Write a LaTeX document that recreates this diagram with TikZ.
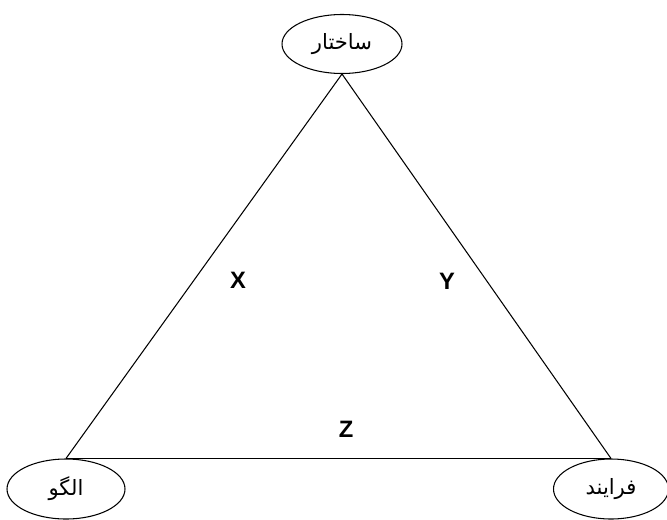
\documentclass[tikz,border=0pt]{standalone}
\usepackage{fontspec}
\setmainfont{Liberation Sans}
\newfontfamily\farsi[Script=Arabic]{DejaVu Sans}
\TeXXeTstate=1
\usetikzlibrary{shapes.geometric}

\begin{document}
\begin{tikzpicture}[line width=0.6pt,
  oval/.style={draw,ellipse,inner sep=0pt,minimum width=2.4cm,minimum height=1.18cm,font=\farsi\fontsize{12}{14}\selectfont},
  side/.style={font=\bfseries\fontsize{13.5}{15}\selectfont}]
\useasboundingbox (0,0) rectangle (13.34,10.38);
\node[oval] (S) at (6.84,9.50) {\beginR ساختار\endR};
\node[oval,minimum width=2.36cm,minimum height=1.2cm] (P) at (1.32,0.60) {\beginR الگو\endR};
\node[oval,minimum width=2.3cm,minimum height=1.2cm] (F) at (12.22,0.60) {\beginR فرایند\endR};
\node[side] (x) at (4.76,4.78) {X};
\node[side] (y) at (8.94,4.76) {Y};
\node[side] (z) at (6.92,1.80) {Z};
\draw (S.south) -- (P.north);
\draw (S.south) -- (F.north);
\draw (P.north) -- (F.north);
\end{tikzpicture}
\end{document}
